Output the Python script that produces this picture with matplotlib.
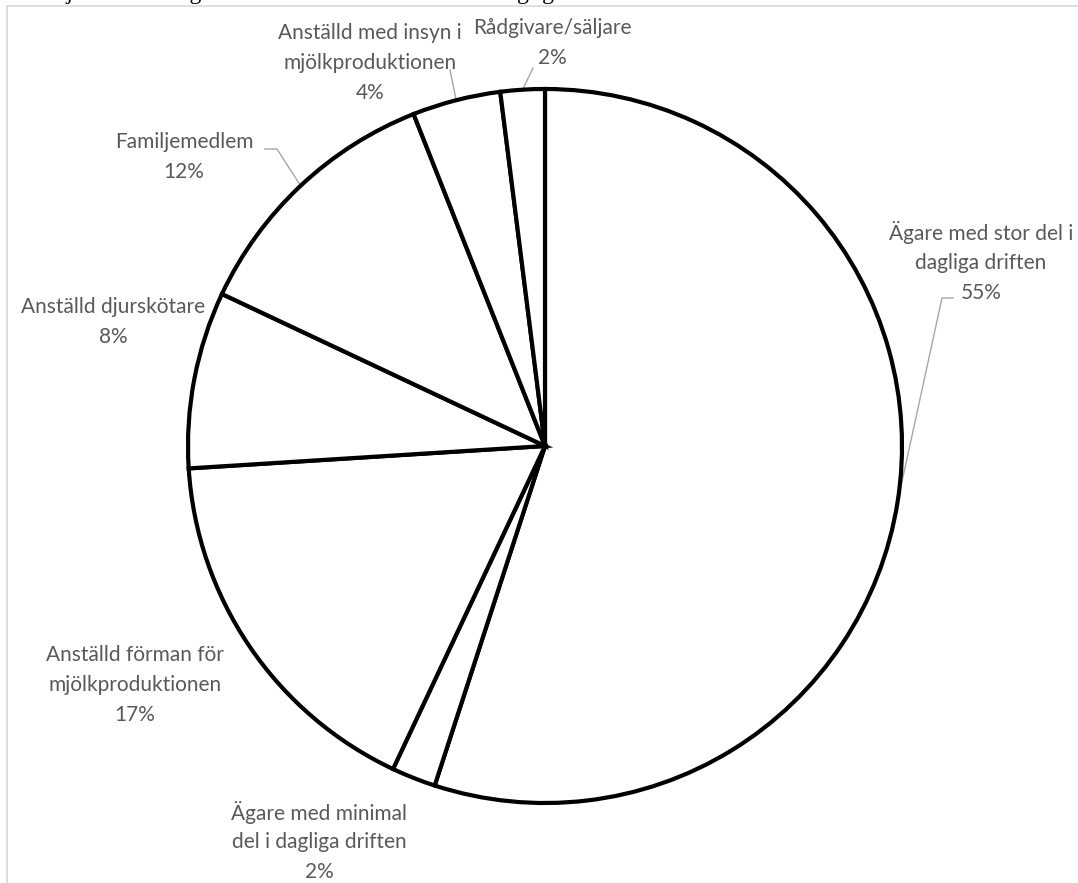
import numpy as np
import matplotlib
matplotlib.use("Agg")
import matplotlib.pyplot as plt
from matplotlib.lines import Line2D

W, H = 1078, 883

# role categories, clockwise from 12 o'clock
roles = [
    "Ägare med stor del i\ndagliga driften",
    "Ägare med minimal\ndel i dagliga driften",
    "Anställd förman för\nmjölkproduktionen",
    "Anställd djurskötare",
    "Familjemedlem",
    "Anställd med insyn i\nmjölkproduktionen",
    "Rådgivare/säljare",
]
shares = [55, 2, 17, 8, 12, 4, 2]

# label anchor (pixel x, pixel y of first line) and optional leader elbow
label_pos = [(981, 233), (319, 812), (135, 655), (113, 307), (184, 142), (370, 33), (552, 28)]
leaders = {
    0: [(953, 298), (942, 298)],
    4: [(265, 149), (277, 149)],
    5: [(450, 70)],
    6: [(533, 68)],
}

CX, CY, R = 545, 446, 357
TEXT_C = "#595959"
LEAD_C = "#a6a6a6"

fig = plt.figure(figsize=(W / 100, H / 100), dpi=100)
fig.patch.set_facecolor("white")
ax = fig.add_axes([0, 0, 1, 1])

wedges, _ = ax.pie(
    shares, startangle=90, counterclock=False,
    center=(CX, H - CY), radius=R,
    colors=["white"] * len(shares),
    wedgeprops={"edgecolor": "black", "linewidth": 3.0, "joinstyle": "miter"},
)
ax.set_xlim(0, W)
ax.set_ylim(0, H)
ax.set_aspect("equal")
ax.axis("off")

LINE_H = 30
for i, (role, v) in enumerate(zip(roles, shares)):
    lx, ly = label_pos[i]
    lines = role.split("\n") + [f"{v}%"]
    for k, s in enumerate(lines):
        ax.text(lx, H - (ly + k * LINE_H), s, ha="center", va="center",
                fontsize=15, color=TEXT_C, family="Lato")
    if i in leaders:
        w = wedges[i]
        mid = np.deg2rad((w.theta1 + w.theta2) / 2)
        ex, ey = CX + R * np.cos(mid), (H - CY) + R * np.sin(mid)
        pts = [(x, H - y) for x, y in leaders[i]] + [(ex, ey)]
        xs, ys = zip(*pts)
        ax.plot(xs, ys, color=LEAD_C, lw=1.0, zorder=0.5)

# chart frame (left and top edges)
fig.add_artist(Line2D([6.5 / W, 6.5 / W], [0, 1 - 5.5 / H], transform=fig.transFigure,
                      color="#d9d9d9", lw=1.2))
fig.add_artist(Line2D([6.5 / W, 1], [1 - 5.5 / H, 1 - 5.5 / H], transform=fig.transFigure,
                      color="#d9d9d9", lw=1.2))

# title sits above the visible area
fig.text(35 / W, 1 + 1.5 / H, "Majoriteten av ägarna arbetar med stor del i den dagliga driften",
         ha="left", va="baseline", fontsize=17, family="Liberation Serif", color="black")

fig.savefig("out.png", dpi=100, facecolor="white")
